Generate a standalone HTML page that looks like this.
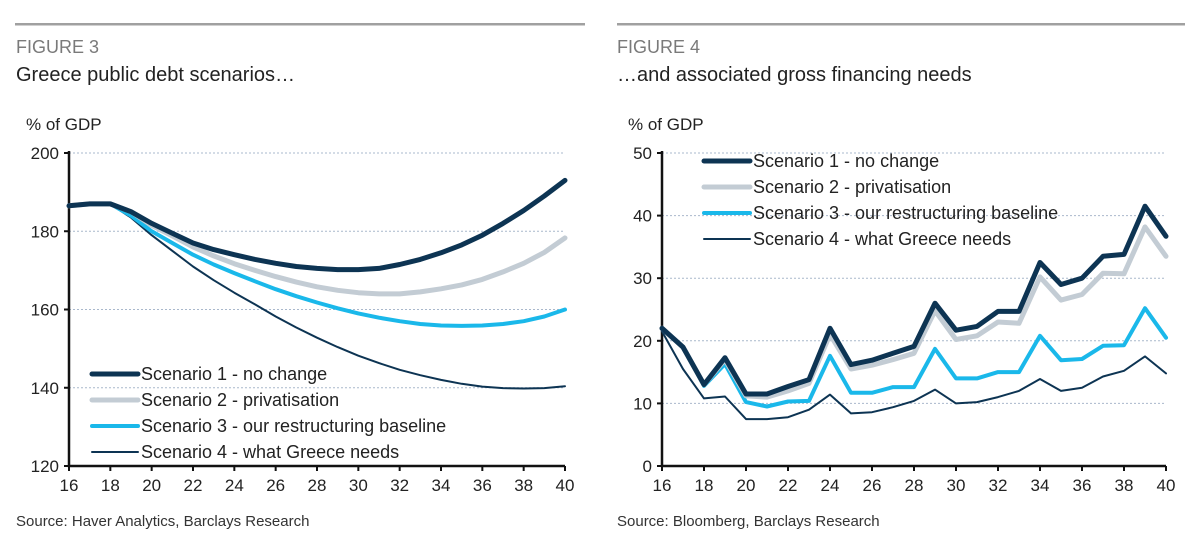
<!DOCTYPE html>
<html><head><meta charset="utf-8"><style>
html,body{margin:0;padding:0;background:#fff;width:1200px;height:541px;overflow:hidden}
svg{display:block;font-family:"Liberation Sans",sans-serif}
</style></head><body>
<svg id="c" width="1200" height="541" viewBox="0 0 1200 541">
<rect x="15" y="23" width="570" height="2.5" fill="#a0a0a0"/>
<rect x="617" y="23" width="568" height="2.5" fill="#a0a0a0"/>
<text x="16" y="53" font-size="18" fill="#7a7a7a">FIGURE 3</text>
<text x="16" y="81" font-size="20" fill="#222">Greece public debt scenarios…</text>
<text x="26" y="130" font-size="17" fill="#222">% of GDP</text>
<text x="16" y="526" font-size="15" fill="#333">Source: Haver Analytics, Barclays Research</text>
<text x="617" y="53" font-size="18" fill="#7a7a7a">FIGURE 4</text>
<text x="617" y="81" font-size="20" fill="#222">…and associated gross financing needs</text>
<text x="628" y="130" font-size="17" fill="#222">% of GDP</text>
<text x="617" y="526" font-size="15" fill="#333">Source: Bloomberg, Barclays Research</text>
</svg>
<script>
const years=[16,17,18,19,20,21,22,23,24,25,26,27,28,29,30,31,32,33,34,35,36,37,38,39,40];
const xTicks=[16,18,20,22,24,26,28,30,32,34,36,38,40];
const debtTicks=[120,140,160,180,200];
const gfnTicks=[0,10,20,30,40,50];
const seriesNames=["Scenario 1 - no change","Scenario 2 - privatisation","Scenario 3 - our restructuring baseline","Scenario 4 - what Greece needs"];
const debtS1=[186.5,187,187,185,182,179.5,177,175.3,174,172.8,171.8,171,170.5,170.2,170.2,170.5,171.5,172.8,174.5,176.5,179,182,185.3,189,193];
const debtS2=[186.5,187,187,185,181.5,178.8,176,173.7,171.7,170,168.4,167,165.8,164.9,164.3,164,164,164.5,165.3,166.3,167.7,169.6,171.8,174.6,178.3];
const debtS3=[186.5,187,187,184,180,177,174,171.5,169.3,167.2,165.2,163.4,161.8,160.3,159,157.9,157,156.3,155.9,155.8,155.9,156.3,157,158.2,160];
const debtS4=[186.5,187,187,183.5,179,175,171,167.5,164.3,161.3,158.2,155.4,152.8,150.4,148.2,146.3,144.6,143.2,142,141,140.3,139.9,139.8,139.9,140.4];
const gfnS1=[22,19,13,17.3,11.5,11.5,12.7,13.8,22,16.2,16.9,18,19.1,26,21.7,22.3,24.7,24.7,32.5,29,30,33.5,33.8,41.5,36.7];
const gfnS2=[22,19,13,17,11.2,11,12,13.2,21,15.5,16.1,17,18,24.8,20.2,20.8,23,22.8,30.2,26.5,27.4,30.8,30.7,38.2,33.5];
const gfnS3=[22,19,12.8,16.3,10.2,9.5,10.3,10.4,17.6,11.7,11.7,12.6,12.6,18.7,14,14,15,15,20.8,16.9,17.1,19.2,19.3,25.2,20.5];
const gfnS4=[21.5,15.5,10.8,11.1,7.5,7.5,7.8,9,11.4,8.4,8.6,9.4,10.4,12.2,10,10.2,11,12,13.9,12,12.5,14.3,15.2,17.5,14.8];

const NS="http://www.w3.org/2000/svg";
const svg=document.getElementById('c');
function mk(tag,attrs,parent){const e=document.createElementNS(NS,tag);for(const k in attrs)e.setAttribute(k,attrs[k]);(parent||svg).appendChild(e);return e;}
const styles=[{c:"#0d3453",w:5},{c:"#c3ccd4",w:5},{c:"#1ab8ea",w:4},{c:"#0d3453",w:2}];

function drawChart(prefix,x0,x1,y0,y1,vmin,vmax,yTicks,series,legX,legY,legStep,legLen){
  const g=mk('g',{});
  
  
  const sx=v=>x0+(v-16)/(40-16)*(x1-x0);
  const sy=v=>y1-(v-vmin)/(vmax-vmin)*(y1-y0);
  yTicks.forEach(t=>{
    if(t!==vmin){const l=mk('line',{x1:x0,x2:x1,y1:sy(t),y2:sy(t),stroke:"#a9b8cc","stroke-width":1,"stroke-dasharray":"2,2"},g);
    
    }
    const tk=mk('line',{x1:x0-5,x2:x0,y1:sy(t),y2:sy(t),stroke:"#111","stroke-width":2},g);
    
    
    const tx=mk('text',{x:x0-10,y:sy(t)+6,"text-anchor":"end","font-size":17,fill:"#222"},g);
    tx.textContent=t;
    
    
  });
  xTicks.forEach(t=>{
    const tk=mk('line',{x1:sx(t),x2:sx(t),y1:y1,y2:y1+5,stroke:"#111","stroke-width":2},g);
    
    
    const tx=mk('text',{x:sx(t),y:y1+25,"text-anchor":"middle","font-size":17,fill:"#222"},g);
    tx.textContent=t;
    
    
  });
  const ax=mk('path',{d:`M${x0},${y0-2}V${y1}H${x1}`,fill:"none",stroke:"#111","stroke-width":2.5},g);
  
  
  [3,2,1,0].forEach(i=>{
    const d=series[i].map((v,j)=>(j?'L':'M')+sx(years[j]).toFixed(1)+','+sy(v).toFixed(1)).join('');
    const p=mk('path',{d:d,fill:"none",stroke:styles[i].c,"stroke-width":styles[i].w,"stroke-linejoin":"round","stroke-linecap":"round"},g);
    
    
  });
  seriesNames.forEach((n,i)=>{
    const y=legY+i*legStep;
    const l=mk('line',{x1:legX,x2:legX+legLen,y1:y,y2:y,stroke:styles[i].c,"stroke-width":styles[i].w,"stroke-linecap":"round"},g);
    
    
    const t=mk('text',{x:legX+legLen+3,y:y+6,"font-size":18,fill:"#222"},g);
    t.textContent=n;
    
    
  });
}
drawChart('debt',69,565,153,466,120,200,debtTicks,[debtS1,debtS2,debtS3,debtS4],92,374,26,46);
drawChart('gfn',662,1166,153,466,0,50,gfnTicks,[gfnS1,gfnS2,gfnS3,gfnS4],704,161,26,46);
</script>
</body></html>
